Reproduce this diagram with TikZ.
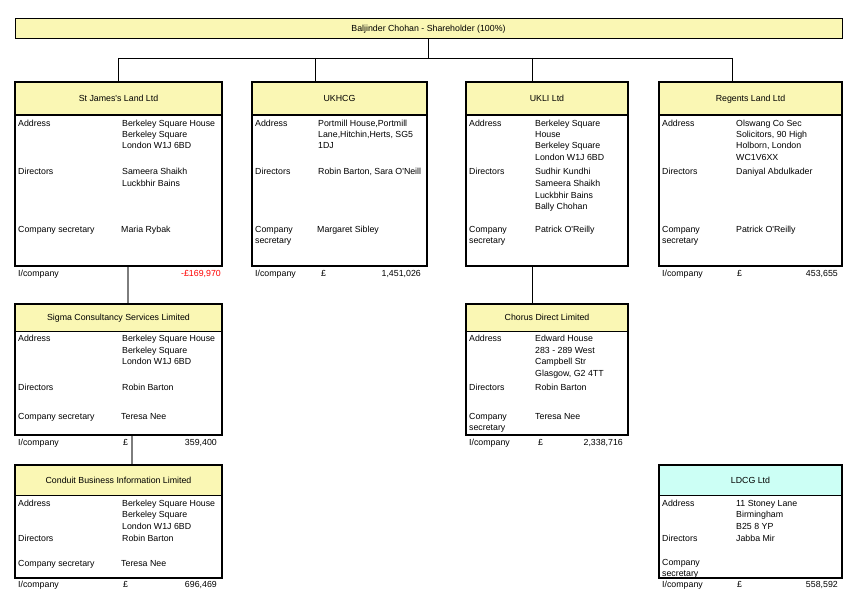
\documentclass[tikz,border=0pt]{standalone}
\usepackage{fontspec}
\setmainfont{Liberation Sans}
\definecolor{hdryel}{RGB}{250,247,180}
\definecolor{hdrcyan}{RGB}{204,255,245}
\definecolor{conngrey}{RGB}{125,125,125}
\newcommand\q{\textquotesingle}
\newcommand\txtlines[4]{%
  \foreach \mytext [count=\i] in {#4} {\node[lbl] (#1\i) at (#2,{#3+11.5*(\i-1)}) {\mytext};}}
\begin{document}
\begin{tikzpicture}[x=1pt,y=-1pt,
  font=\fontsize{8.8}{10.5}\selectfont,
  bar/.style={draw, line width=0.8pt, fill=hdryel, inner sep=0pt, minimum width=827pt, minimum height=20pt, text height=6.4pt, text depth=0pt},
  hdr/.style={draw, line width=1.7pt, fill=hdryel, inner sep=0pt, text height=6.4pt, text depth=0pt},
  body/.style={draw, line width=1.9pt, fill=white, inner sep=0pt},
  lbl/.style={anchor=base west, inner sep=0pt},
  num/.style={anchor=base east, inner sep=0pt},
  conn/.style={draw=black, line width=0.9pt},
  gconn/.style={draw=conngrey, line width=1.5pt}]
\useasboundingbox[fill=white] (0,0) rectangle (863,610);

% top bar
\node[bar] (top) at (428.5,28) {Baljinder Chohan - Shareholder (100\%)};

% ---- row 1 boxes
\node[body, minimum width=207pt, minimum height=151pt] (sjb) at (118.5,190.5) {};
\node[hdr, minimum width=207pt, minimum height=33pt] (sjh) at (118.5,98.5) {St James\q s Land Ltd};
\node[body, minimum width=175pt, minimum height=151pt] (ukb) at (339.5,190.5) {};
\node[hdr, minimum width=175pt, minimum height=33pt] (ukh) at (339.5,98.5) {UKHCG};
\node[body, minimum width=162pt, minimum height=151pt] (lib) at (547,190.5) {};
\node[hdr, minimum width=162pt, minimum height=33pt] (lih) at (547,98.5) {UKLI Ltd};
\node[body, minimum width=183pt, minimum height=151pt] (rgb) at (750.5,190.5) {};
\node[hdr, minimum width=183pt, minimum height=33pt] (rgh) at (750.5,98.5) {Regents Land Ltd};

% ---- row 2 boxes
\node[body, minimum width=207pt, minimum height=103.5pt] (sgb) at (118.5,383.25) {};
\node[hdr, minimum width=207pt, minimum height=27.5pt] (sgh) at (118.5,317.75) {Sigma Consultancy Services Limited};
\node[body, minimum width=162pt, minimum height=103.5pt] (chb) at (547,383.25) {};
\node[hdr, minimum width=162pt, minimum height=27.5pt] (chh) at (547,317.75) {Chorus Direct Limited};

% ---- row 3 boxes
\node[body, minimum width=207pt, minimum height=82.5pt] (cdb) at (118.5,536.75) {};
\node[hdr, minimum width=207pt, minimum height=30.5pt] (cdh) at (118.5,480.25) {Conduit Business Information Limited};
\node[body, minimum width=183pt, minimum height=82.5pt] (ldb) at (750.5,536.75) {};
\node[hdr, fill=hdrcyan, minimum width=183pt, minimum height=30.5pt] (ldh) at (750.5,480.25) {LDCG Ltd};

% ---- connectors
\coordinate (d1) at (118,58);
\coordinate (d2) at (315,58);
\coordinate (d3) at (532,58);
\coordinate (d4) at (732,58);
\coordinate (dm) at (top.south |- d1);
\draw[conn] (top.south) -- (dm);
\draw[conn] (d1) -- (d4);
\draw[conn] (d1) -- (d1 |- sjh.north);
\draw[conn] (d2) -- (d2 |- ukh.north);
\draw[conn] (d3) -- (d3 |- lih.north);
\draw[conn] (d4) -- (d4 |- rgh.north);
\coordinate (s1) at (128,267);
\draw[gconn] (s1) -- (s1 |- sgh.north);
\coordinate (s2) at (132,436);
\draw[gconn] (s2) -- (s2 |- cdh.north);
\coordinate (s3) at (532,267);
\draw[conn] (s3) -- (s3 |- chh.north);

% ---- St James's Land Ltd
\node[lbl] (sjA) at (18,126) {Address};
\txtlines{sjAv}{122}{126}{Berkeley Square House,Berkeley Square,London W1J 6BD}
\node[lbl] (sjD) at (18,175) {Directors};
\txtlines{sjDv}{122}{175}{Sameera Shaikh,Luckbhir Bains}
\node[lbl] (sjC) at (18,232) {Company secretary};
\node[lbl] (sjCv) at (121,232) {Maria Rybak};
\node[lbl] (sjI) at (18,276) {I/company};
\node[num, text=red] (sjIv) at (221,276) {-£169,970};

% ---- UKHCG
\node[lbl] (ukA) at (255,126) {Address};
\txtlines{ukAv}{318}{126}{{Portmill House,Portmill},{Lane,Hitchin,Herts, SG5},1DJ}
\node[lbl] (ukD) at (255,175) {Directors};
\node[lbl] (ukDv) at (318,175) {Robin Barton, Sara O\q Neill};
\txtlines{ukC}{255}{232}{Company,secretary}
\node[lbl] (ukCv) at (317,232) {Margaret Sibley};
\node[lbl] (ukI) at (255,276) {I/company};
\node[lbl] (ukP) at (321,276) {£};
\node[num] (ukIv) at (421,276) {1,451,026};

% ---- UKLI Ltd
\node[lbl] (liA) at (469,126) {Address};
\txtlines{liAv}{535}{126}{Berkeley Square,House,Berkeley Square,London W1J 6BD}
\node[lbl] (liD) at (469,175) {Directors};
\txtlines{liDv}{535}{175}{Sudhir Kundhi,Sameera Shaikh,Luckbhir Bains,Bally Chohan}
\txtlines{liC}{469}{232}{Company,secretary}
\node[lbl] (liCv) at (535,232) {Patrick O\q Reilly};

% ---- Regents Land Ltd
\node[lbl] (rgA) at (662,126) {Address};
\txtlines{rgAv}{736}{126}{Olswang Co Sec,{Solicitors, 90 High},{Holborn, London},WC1V6XX}
\node[lbl] (rgD) at (662,175) {Directors};
\node[lbl] (rgDv) at (736,175) {Daniyal Abdulkader};
\txtlines{rgC}{662}{232}{Company,secretary}
\node[lbl] (rgCv) at (736,232) {Patrick O\q Reilly};
\node[lbl] (rgI) at (662,276) {I/company};
\node[lbl] (rgP) at (737,276) {£};
\node[num] (rgIv) at (838,276) {453,655};

% ---- Sigma
\node[lbl] (sgA) at (18,341.5) {Address};
\txtlines{sgAv}{122}{341.5}{Berkeley Square House,Berkeley Square,London W1J 6BD}
\node[lbl] (sgD) at (18,390) {Directors};
\node[lbl] (sgDv) at (122,390) {Robin Barton};
\node[lbl] (sgC) at (18,419) {Company secretary};
\node[lbl] (sgCv) at (121,419) {Teresa Nee};
\node[lbl] (sgI) at (18,445) {I/company};
\node[lbl] (sgP) at (123,445) {£};
\node[num] (sgIv) at (217,445) {359,400};

% ---- Chorus
\node[lbl] (chA) at (469,341.5) {Address};
\txtlines{chAv}{535}{341.5}{Edward House,283 - 289 West,Campbell Str,{Glasgow, G2 4TT}}
\node[lbl] (chD) at (469,390) {Directors};
\node[lbl] (chDv) at (535,390) {Robin Barton};
\txtlines{chC}{469}{419}{Company,secretary}
\node[lbl] (chCv) at (535,419) {Teresa Nee};
\node[lbl] (chI) at (469,445) {I/company};
\node[lbl] (chP) at (538,445) {£};
\node[num] (chIv) at (623,445) {2,338,716};

% ---- Conduit
\node[lbl] (cdA) at (18,506) {Address};
\txtlines{cdAv}{122}{506}{Berkeley Square House,Berkeley Square,London W1J 6BD}
\node[lbl] (cdD) at (18,541) {Directors};
\node[lbl] (cdDv) at (122,541) {Robin Barton};
\node[lbl] (cdC) at (18,566) {Company secretary};
\node[lbl] (cdCv) at (121,566) {Teresa Nee};
\node[lbl] (cdI) at (18,587) {I/company};
\node[lbl] (cdP) at (123,587) {£};
\node[num] (cdIv) at (217,587) {696,469};

% ---- LDCG
\node[lbl] (ldA) at (662,506) {Address};
\txtlines{ldAv}{736}{506}{11 Stoney Lane,Birmingham,B25 8 YP}
\node[lbl] (ldD) at (662,541) {Directors};
\node[lbl] (ldDv) at (736,541) {Jabba Mir};
\txtlines{ldC}{662}{565}{Company,secretary}
\node[lbl] (ldI) at (662,587) {I/company};
\node[lbl] (ldP) at (737,587) {£};
\node[num] (ldIv) at (838,587) {558,592};
\end{tikzpicture}
\end{document}
